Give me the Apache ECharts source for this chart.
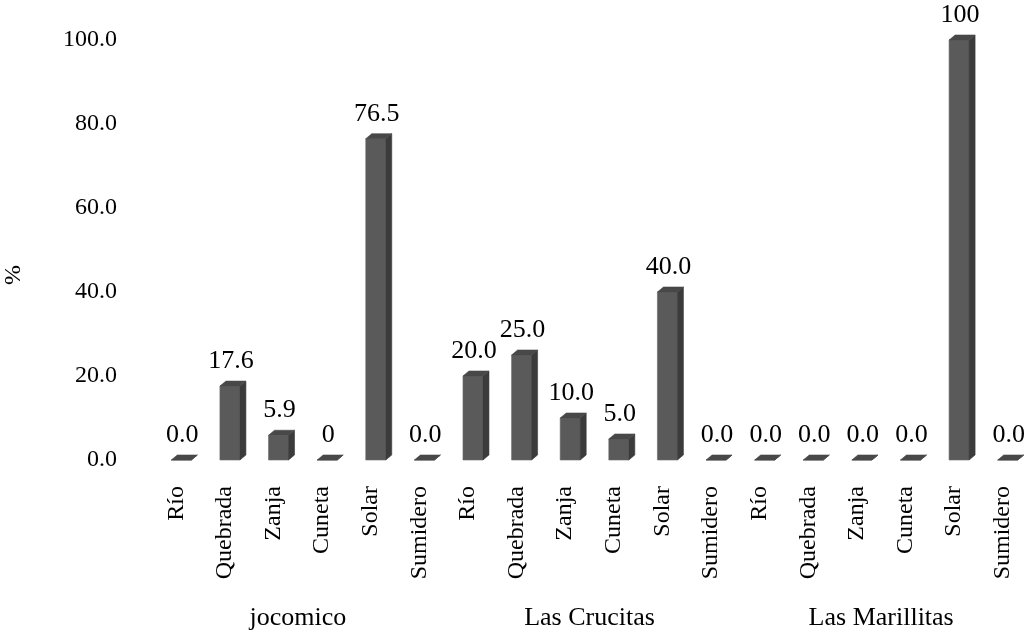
<!DOCTYPE html>
<html>
<head>
<meta charset="utf-8">
<script src="https://cdn.jsdelivr.net/npm/echarts@6/dist/echarts.min.js"></script>
<style>html,body{margin:0;padding:0;background:#fff}#c{width:1027px;height:631px}</style>
</head>
<body>
<div id="c"></div>
<script>
const groups = ['jocomico', 'Las Crucitas', 'Las Marillitas'];
const types = ['Río', 'Quebrada', 'Zanja', 'Cuneta', 'Solar', 'Sumidero'];
const jocomico = [0, 17.6, 5.9, 0, 76.5, 0];
const lasCrucitas = [20, 25, 10, 5, 40, 0];
const lasMarillitas = [0, 0, 0, 0, 100, 0];
const jocomicoLabels = ['0.0', '17.6', '5.9', '0', '76.5', '0.0'];
const lasCrucitasLabels = ['20.0', '25.0', '10.0', '5.0', '40.0', '0.0'];
const lasMarillitasLabels = ['0.0', '0.0', '0.0', '0.0', '100', '0.0'];
const yTicks = [0, 20, 40, 60, 80, 100];

const categories = [].concat(types, types, types);
const values = [].concat(jocomico, lasCrucitas, lasMarillitas);
const valueLabels = [].concat(jocomicoLabels, lasCrucitasLabels, lasMarillitasLabels);

const FONT = '"Liberation Serif","Times New Roman",serif';
const chart = echarts.init(document.getElementById('c'));

function renderItem(params, api) {
  const base = api.coord([api.value(0), 0]);
  const top = api.coord([api.value(0), api.value(1)]);
  const c = base[0], yb = base[1], yt = top[1];
  const L = c - 5, R = c + 15, dx = 6, dy = 5;
  return {
    type: 'group',
    children: [
      { type: 'polygon', shape: { points: [[L, yt], [R, yt], [R, yb], [L, yb]] },
        style: { fill: '#5a5a5a', stroke: '#6a6a6a', lineWidth: 0.6 } },
      { type: 'polygon', shape: { points: [[R, yt], [R + dx, yt - dy], [R + dx, yb - dy], [R, yb]] },
        style: { fill: '#3b3b3b', stroke: '#3b3b3b', lineWidth: 0.6 } },
      { type: 'polygon', shape: { points: [[L, yt], [L + dx, yt - dy], [R + dx, yt - dy], [R, yt]] },
        style: { fill: '#484848', stroke: '#484848', lineWidth: 0.6 } },
      { type: 'text', style: { text: valueLabels[params.dataIndex], x: c + 6, y: yt - dy - 7,
        align: 'center', verticalAlign: 'bottom', fill: '#000', font: '26px ' + FONT } }
    ]
  };
}

chart.setOption({
  animation: false,
  backgroundColor: '#fff',
  grid: { left: 152, right: 0, top: 40, bottom: 170 },
  xAxis: [
    { type: 'category', data: categories, axisLine: { show: false }, axisTick: { show: false },
      axisLabel: { rotate: 90, margin: 26, interval: 0, color: '#000', fontSize: 24, fontFamily: FONT } },
    { type: 'category', data: groups, position: 'bottom', offset: 137, axisLine: { show: false }, axisTick: { show: false },
      axisLabel: { margin: 8, interval: 0, color: '#000', fontSize: 26, fontFamily: FONT } }
  ],
  yAxis: {
    type: 'value', min: yTicks[0], max: yTicks[yTicks.length - 1], interval: 20,
    axisLine: { show: false }, axisTick: { show: false }, splitLine: { show: false },
    axisLabel: { margin: 35, color: '#000', fontSize: 24, fontFamily: FONT, padding: [6, 0, 0, 0],
      formatter: v => v.toFixed(1) }
  },
  graphic: [
    { type: 'text', x: 14, y: 275, rotation: Math.PI / 2,
      style: { text: '%', align: 'center', verticalAlign: 'middle', fill: '#000', font: '24px ' + FONT } }
  ],
  series: [{
    type: 'custom',
    xAxisIndex: 0,
    renderItem: renderItem,
    clip: false,
    data: values.map((v, i) => [i, v])
  }]
});
</script>
</body>
</html>
